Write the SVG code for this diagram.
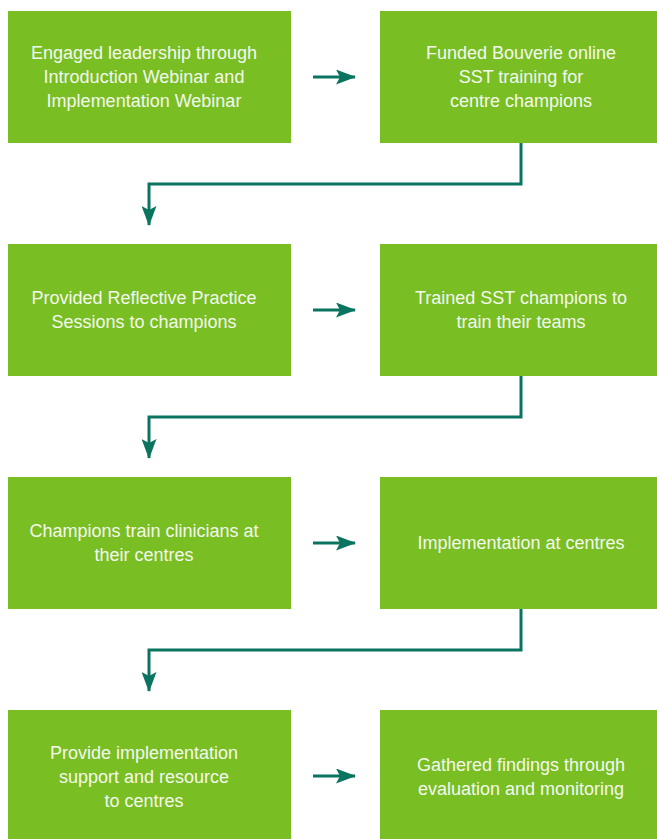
<svg xmlns="http://www.w3.org/2000/svg" width="657" height="839" viewBox="0 0 657 839">
<style>
.box{fill:#79be22}
.t{font-family:"Liberation Sans",Arial,sans-serif;font-size:18px;fill:#f4f9ee;text-anchor:middle}
.c{fill:none;stroke:#0b7461;stroke-width:3}
.h{fill:#0b7461}
</style>
<defs>
<marker id="ah" viewBox="0 0 20 15" refX="19" refY="7.5" markerWidth="20" markerHeight="15" markerUnits="userSpaceOnUse" orient="auto">
<path d="M0,0 L20,7.5 L0,15 L4,7.5 Z" class="h"/>
</marker>
</defs>
<rect width="657" height="839" fill="#ffffff"/>
<g id="n1"><rect class="box" x="8" y="11" width="283" height="132"/>
<text class="t" x="144" y="59">Engaged leadership through</text>
<text class="t" x="144" y="83">Introduction Webinar and</text>
<text class="t" x="144" y="107">Implementation Webinar</text></g>
<g id="n2"><rect class="box" x="380" y="11" width="283" height="132"/>
<text class="t" x="521" y="59">Funded Bouverie online</text>
<text class="t" x="521" y="83">SST training for</text>
<text class="t" x="521" y="107">centre champions</text></g>
<g id="n3"><rect class="box" x="8" y="244" width="283" height="132"/>
<text class="t" x="144" y="304">Provided Reflective Practice</text>
<text class="t" x="144" y="328">Sessions to champions</text></g>
<g id="n4"><rect class="box" x="380" y="244" width="283" height="132"/>
<text class="t" x="521" y="304">Trained SST champions to</text>
<text class="t" x="521" y="328">train their teams</text></g>
<g id="n5"><rect class="box" x="8" y="477" width="283" height="132"/>
<text class="t" x="144" y="537">Champions train clinicians at</text>
<text class="t" x="144" y="561">their centres</text></g>
<g id="n6"><rect class="box" x="380" y="477" width="283" height="132"/>
<text class="t" x="521" y="549">Implementation at centres</text></g>
<g id="n7"><rect class="box" x="8" y="710" width="283" height="132"/>
<text class="t" x="144" y="759">Provide implementation</text>
<text class="t" x="144" y="783">support and resource</text>
<text class="t" x="144" y="807">to centres</text></g>
<g id="n8"><rect class="box" x="380" y="710" width="283" height="132"/>
<text class="t" x="521" y="771">Gathered findings through</text>
<text class="t" x="521" y="795">evaluation and monitoring</text></g>
<g id="connectors">
<path class="c" d="M313,77 H355" marker-end="url(#ah)"/>
<path class="c" d="M313,310 H355" marker-end="url(#ah)"/>
<path class="c" d="M313,543 H355" marker-end="url(#ah)"/>
<path class="c" d="M313,776 H355" marker-end="url(#ah)"/>
<path class="c" d="M521,143 V184 H149 V225" marker-end="url(#ah)"/>
<path class="c" d="M521,376 V417 H149 V458" marker-end="url(#ah)"/>
<path class="c" d="M521,609 V650 H149 V691" marker-end="url(#ah)"/>
</g>
</svg>
